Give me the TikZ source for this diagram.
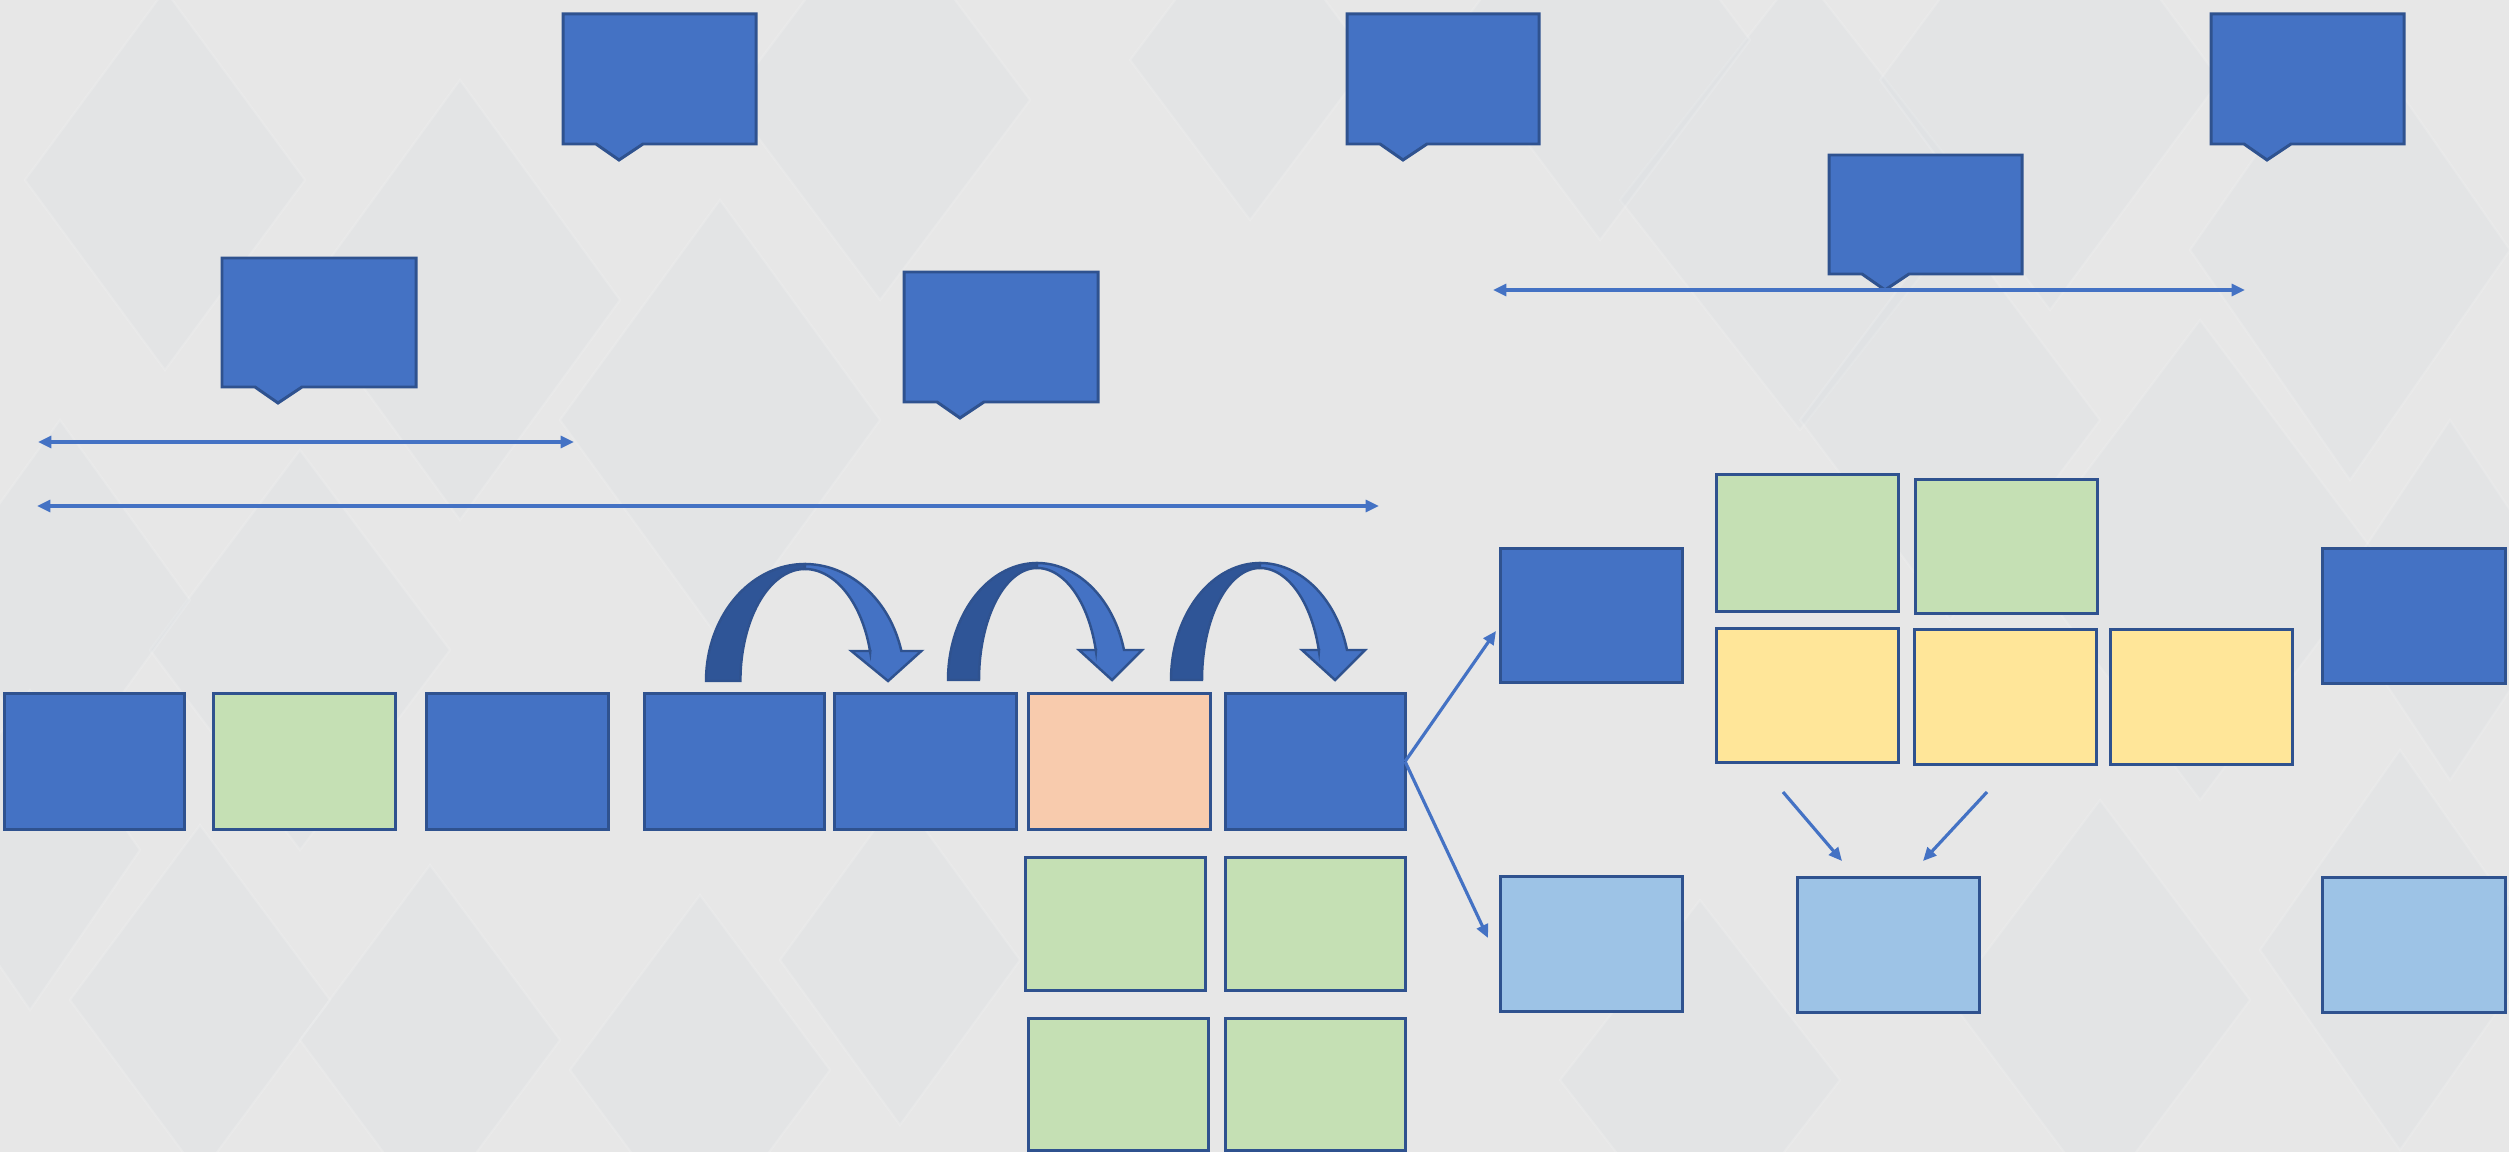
\documentclass[tikz,border=0pt]{standalone}
\usetikzlibrary{arrows.meta}

\definecolor{bg}{HTML}{E7E7E7}
\definecolor{bgshape}{HTML}{D4DBE1}
\definecolor{mblue}{HTML}{4472C4}
\definecolor{dblue}{HTML}{2F5597}
\definecolor{edge}{HTML}{2F528F}
\definecolor{mgreen}{HTML}{C5E0B4}
\definecolor{myellow}{HTML}{FFE699}
\definecolor{mpeach}{HTML}{F8CBAD}
\definecolor{lblue}{HTML}{9DC3E6}

\begin{document}
\begin{tikzpicture}[x=0.01cm, y=-0.01cm,
  box/.style={draw=edge, line width=0.85pt, inner sep=0pt, outer sep=0pt,
    minimum width=1.81cm, minimum height=1.34cm},
  bluebox/.style={box, fill=mblue},
  greenbox/.style={box, fill=mgreen},
  yellowbox/.style={box, fill=myellow},
  peachbox/.style={box, fill=mpeach},
  lightbox/.style={box, fill=lblue},
  conn/.style={draw=mblue, line width=0.9pt},
  tip/.style={-{Triangle[length=3.8pt, width=3.4pt]}},
  both/.style={{Triangle[length=3.8pt, width=3.4pt]}-{Triangle[length=3.8pt, width=3.4pt]}},
  bgdiamond/.style={fill=bgshape, fill opacity=0.2, draw=white, draw opacity=0.15, line width=0.6pt},
  calloutshape/.style={fill=mblue, draw=edge, line width=0.85pt, line join=miter},
  pics/callout/.style 2 args={code={
    \path[calloutshape] (0,0) -- (#1,0) -- (#1,#2) -- (80,#2) -- (56,{#2+16})
      -- (33,#2) -- (0,#2) -- cycle;
  }},
  pics/uturn/.style={code={
    % back band of the curved arrow
    \path[fill=dblue, draw=edge, line width=0.7pt]
      plot[domain=180:90, samples=40, variable=\t] ({89+89*cos(\t)},{-117*sin(\t)})
      -- plot[domain=90:180, samples=40, variable=\t] ({89+58*cos(\t)},{-112*sin(\t)})
      -- cycle;
    % front band with the arrow head
    \path[fill=mblue, draw=edge, line width=0.7pt, line join=miter]
      (148,-30) -- (131,-30) -- (164,0) -- (194,-30) -- (176,-30)
      -- plot[domain=15:90, samples=40, variable=\t] ({89+90*cos(\t)},{-117*sin(\t)})
      -- plot[domain=90:15, samples=40, variable=\t] ({89+61*cos(\t)},{-112*sin(\t)})
      -- cycle;
  }}
]
\useasboundingbox (0,0) rectangle (2509,1152);
\fill[bg] (0,0) rectangle (2509,1152);

% faint diamond pattern of the background
\begin{scope}
\clip (0,0) rectangle (2509,1152);
\foreach \cx/\cy/\w/\h in {
  165/180/140/190, 460/300/160/220, 720/420/160/220, 880/100/150/200,
  300/650/150/200, 60/600/130/180, 200/1000/130/175, 430/1040/130/175,
  700/1070/130/175, 900/960/120/165, 30/850/110/160,
  1800/200/180/230, 2050/80/170/230, 2350/250/160/230, 2200/560/180/240,
  1950/420/150/200, 2450/600/120/180, 2100/1000/150/200, 2400/950/140/200,
  1700/1080/140/180, 1600/40/150/200, 1250/60/120/160}
  \path[bgdiamond] ({\cx-\w},\cy) -- (\cx,{\cy-\h}) -- ({\cx+\w},\cy) -- (\cx,{\cy+\h}) -- cycle;
\end{scope}

% callouts
\path (563,14) pic {callout={193}{130}};
\path (1347,14) pic {callout={192}{130}};
\path (2211,14) pic {callout={193}{130}};
\path (1829,155) pic {callout={193}{119}};
\path (222,258) pic {callout={194}{129}};
\path (904,272) pic {callout={194}{130}};

% horizontal double arrows
\coordinate (ha1) at (38,442);   \coordinate (hb1) at (574,442);
\coordinate (ha2) at (37,506);   \coordinate (hb2) at (1379,506);
\coordinate (ha3) at (1493,290); \coordinate (hb3) at (2245,290);
\draw[conn, both] (ha1) -- (hb1);
\draw[conn, both] (ha2) -- (hb2);
\draw[conn, both] (ha3) -- (hb3);

% main row
\node[bluebox,  minimum width=1.79cm, minimum height=1.35cm] (A) at (94.5,761.5) {};
\node[greenbox, minimum height=1.35cm] (B) at (304.5,761.5) {};
\node[bluebox,  minimum height=1.35cm] (C) at (517.5,761.5) {};
\node[bluebox,  minimum width=1.79cm, minimum height=1.35cm] (D) at (734.5,761.5) {};
\node[bluebox,  minimum height=1.35cm] (E) at (925.5,761.5) {};
\node[peachbox, minimum height=1.35cm] (F) at (1119.5,761.5) {};
\node[bluebox,  minimum width=1.79cm, minimum height=1.35cm] (G) at (1315.5,761.5) {};

% boxes below
\node[greenbox, minimum width=1.79cm, minimum height=1.32cm] (g1) at (1115.5,924) {};
\node[greenbox, minimum width=1.79cm, minimum height=1.32cm] (g2) at (1315.5,924) {};
\node[greenbox, minimum width=1.79cm, minimum height=1.31cm] (g3) at (1118.5,1084.5) {};
\node[greenbox, minimum width=1.79cm, minimum height=1.31cm] (g4) at (1315.5,1084.5) {};

% curved arrows over the row
\path (706,681) pic[xscale=1.11] {uturn};
\path (948,680) pic {uturn};
\path (1171,680) pic {uturn};

% right group
\node[bluebox] (H) at (1591.5,615.5) {};
\node[greenbox, minimum height=1.36cm] (r1) at (1807.5,543) {};
\node[greenbox, minimum height=1.33cm] (r2) at (2006.5,546.5) {};
\node[yellowbox, minimum height=1.33cm] (y1) at (1807.5,695.5) {};
\node[yellowbox] (y2) at (2005.5,697) {};
\node[yellowbox] (y3) at (2201.5,697) {};
\node[bluebox, minimum width=1.82cm] (K) at (2414,616) {};
\node[lightbox] (L1) at (1591.5,944) {};
\node[lightbox] (L2) at (1888.5,945) {};
\node[lightbox, minimum width=1.82cm] (L3) at (2414,945) {};

% connectors from the last box of the row
\coordinate (upTip) at (1496,631);
\coordinate (downTip) at (1488,938);
\draw[conn, tip] (G.east) -- (upTip);
\draw[conn, tip] (G.east) -- (downTip);

% converging arrows
\coordinate (c1s) at (1783,792); \coordinate (c1e) at (1842,861);
\coordinate (c2s) at (1987,792); \coordinate (c2e) at (1923,861);
\draw[conn, tip] (c1s) -- (c1e);
\draw[conn, tip] (c2s) -- (c2e);
\end{tikzpicture}
\end{document}
